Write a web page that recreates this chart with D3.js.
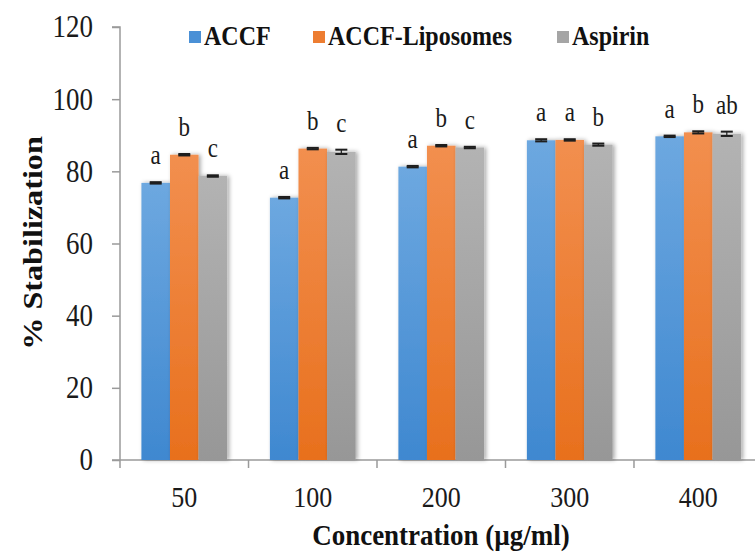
<!DOCTYPE html>
<html>
<head>
<meta charset="utf-8">
<script src="https://cdn.jsdelivr.net/npm/d3@7"></script>
<style>
  body { margin: 0; background: #fff; }
  svg { display: block; }
</style>
</head>
<body>
<div class="chart"></div>
<script>
// data
var concentrations = ["50", "100", "200", "300", "400"];
var seriesNames = ["ACCF", "ACCF-Liposomes", "Aspirin"];
var accfValues = [76.8, 72.7, 81.3, 88.6, 89.7];
var liposomeValues = [84.6, 86.3, 87.1, 88.7, 90.8];
var aspirinValues = [78.7, 85.4, 86.6, 87.4, 90.4];
var accfErrors = [0.2, 0.2, 0.2, 0.3, 0.2];
var liposomeErrors = [0.2, 0.2, 0.2, 0.2, 0.3];
var aspirinErrors = [0.2, 0.6, 0.2, 0.3, 0.6];
var accfLetters = ["a", "a", "a", "a", "a"];
var liposomeLetters = ["b", "b", "b", "a", "b"];
var aspirinLetters = ["c", "c", "c", "b", "ab"];
var yTicks = [0, 20, 40, 60, 80, 100, 120];

var width = 755, height = 554;
var font = "'Liberation Serif', 'DejaVu Serif', serif";
var stretch = 1.15; // text in the figure is a bit taller than wide

var svg = d3.select(".chart").append("svg")
  .attr("width", width)
  .attr("height", height);

var defs = svg.append("defs");

//gradients for the bars (lighter at the top)
var colors = [
  {id: "gBlue", top: "#6da8e0", bottom: "#3f88d0"},
  {id: "gOrange", top: "#f28f4f", bottom: "#e8701d"},
  {id: "gGray", top: "#b3b3b3", bottom: "#979797"}
];
colors.forEach(function(c) {
  var g = defs.append("linearGradient").attr("id", c.id)
    .attr("x1", 0).attr("y1", 0).attr("x2", 0).attr("y2", 1);
  g.append("stop").attr("offset", "0%").attr("stop-color", c.top);
  g.append("stop").attr("offset", "100%").attr("stop-color", c.bottom);
});

var shadow = defs.append("filter").attr("id", "shadow")
  .attr("x", "-20%").attr("y", "-5%").attr("width", "150%").attr("height", "115%");
shadow.append("feDropShadow")
  .attr("dx", 2).attr("dy", 0).attr("stdDeviation", 2)
  .attr("flood-color", "#000").attr("flood-opacity", 0.35);

//scales
var x = d3.scaleBand()
  .domain(concentrations)
  .range([120, 120 + 5 * 128.5])
  .paddingInner(0.333)
  .paddingOuter(0.1667);

var xInner = d3.scaleBand()
  .domain(seriesNames)
  .range([0, x.bandwidth()]);

var y = d3.scaleLinear().domain([0, 120]).range([460, 27]);

var series = [
  {name: seriesNames[0], values: accfValues, errors: accfErrors, letters: accfLetters, fill: "url(#gBlue)", key: "#4a90d6"},
  {name: seriesNames[1], values: liposomeValues, errors: liposomeErrors, letters: liposomeLetters, fill: "url(#gOrange)", key: "#ed7d31"},
  {name: seriesNames[2], values: aspirinValues, errors: aspirinErrors, letters: aspirinLetters, fill: "url(#gGray)", key: "#a5a5a5"}
];

//axes
var axisColor = "#9a9a9a";

var yAxis = svg.append("g")
  .attr("transform", "translate(120,0)")
  .call(d3.axisLeft(y).tickValues(yTicks).tickSize(8).tickPadding(19));
yAxis.select(".domain").attr("stroke", axisColor).attr("stroke-width", 1.5)
  .attr("d", "M-8," + y(120) + "H0V" + (y(0) + 8));
yAxis.selectAll(".tick line").attr("stroke", axisColor).attr("stroke-width", 1.5);
yAxis.selectAll(".tick text")
  .attr("fill", "#1a1a1a")
  .style("font-family", font)
  .style("font-size", "27px")
  .attr("transform", "scale(1," + stretch + ")");

var xAxisG = svg.append("g");
xAxisG.append("line")
  .attr("x1", 112).attr("x2", width)
  .attr("y1", y(0)).attr("y2", y(0))
  .attr("stroke", axisColor).attr("stroke-width", 1.5);
var boundaries = concentrations.map(function(c) { return x(c) - x.step() * x.paddingInner() / 2; });
xAxisG.selectAll(".xtick")
  .data(boundaries.slice(1))
  .enter().append("line")
  .attr("x1", function(d) { return d; })
  .attr("x2", function(d) { return d; })
  .attr("y1", y(0)).attr("y2", y(0) + 8)
  .attr("stroke", axisColor).attr("stroke-width", 1.5);

xAxisG.selectAll(".xlabel")
  .data(concentrations)
  .enter().append("text")
  .attr("transform", function(d) { return "translate(" + (x(d) + x.bandwidth() / 2) + ",507) scale(1," + stretch + ")"; })
  .attr("text-anchor", "middle")
  .attr("fill", "#1a1a1a")
  .style("font-family", font)
  .style("font-size", "26px")
  .text(function(d) { return d; });

//bars
var groups = svg.selectAll(".series")
  .data(series)
  .enter().append("g");

groups.selectAll("rect")
  .data(function(s) { return s.values.map(function(v, i) { return {s: s, v: v, c: concentrations[i]}; }); })
  .enter().append("rect")
  .attr("x", function(d) { return x(d.c) + xInner(d.s.name); })
  .attr("width", xInner.bandwidth())
  .attr("y", function(d) { return y(d.v); })
  .attr("height", function(d) { return y(0) - y(d.v); })
  .attr("fill", function(d) { return d.s.fill; })
  .attr("filter", "url(#shadow)");

//error bars
var errs = svg.append("g").attr("stroke", "#1e1e1e").attr("stroke-width", 2);
series.forEach(function(s) {
  s.values.forEach(function(v, i) {
    var cx = x(concentrations[i]) + xInner(s.name) + xInner.bandwidth() / 2;
    var e = s.errors[i];
    errs.append("line").attr("x1", cx).attr("x2", cx)
      .attr("y1", y(v + e)).attr("y2", y(v - e)).attr("stroke-width", 1.2);
    [v + e, v - e].forEach(function(t) {
      errs.append("line").attr("x1", cx - 6).attr("x2", cx + 6)
        .attr("y1", y(t)).attr("y2", y(t));
    });
  });
});

//significance letters
series.forEach(function(s) {
  svg.append("g").selectAll("text")
    .data(s.values)
    .enter().append("text")
    .attr("transform", function(v, i) {
      var cx = x(concentrations[i]) + xInner(s.name) + xInner.bandwidth() / 2;
      return "translate(" + cx + "," + (y(v + s.errors[i]) - 18) + ") scale(1," + stretch + ")";
    })
    .attr("text-anchor", "middle")
    .attr("fill", "#1a1a1a")
    .style("font-family", font)
    .style("font-size", "23px")
    .text(function(v, i) { return s.letters[i]; });
});

//legend
var legendX = [189, 313, 557];
var legend = svg.append("g");
series.forEach(function(s, i) {
  legend.append("rect")
    .attr("x", legendX[i]).attr("y", 31)
    .attr("width", 12).attr("height", 12)
    .attr("fill", s.key);
  legend.append("text")
    .attr("transform", "translate(" + (legendX[i] + 15) + ",45) scale(1," + stretch + ")")
    .attr("fill", "#111")
    .style("font-family", font)
    .style("font-size", "24px")
    .style("font-weight", "bold")
    .text(s.name);
});

//axis titles
svg.append("text")
  .attr("transform", "translate(42,243) rotate(-90) scale(" + stretch + ",1)")
  .attr("text-anchor", "middle")
  .attr("fill", "#111")
  .style("font-family", font)
  .style("font-size", "28px")
  .style("font-weight", "bold")
  .text("% Stabilization");

svg.append("text")
  .attr("transform", "translate(441,545) scale(1,1.08)")
  .attr("text-anchor", "middle")
  .attr("fill", "#111")
  .style("font-family", font)
  .style("font-size", "27px")
  .style("font-weight", "bold")
  .text("Concentration (µg/ml)");
</script>
</body>
</html>
